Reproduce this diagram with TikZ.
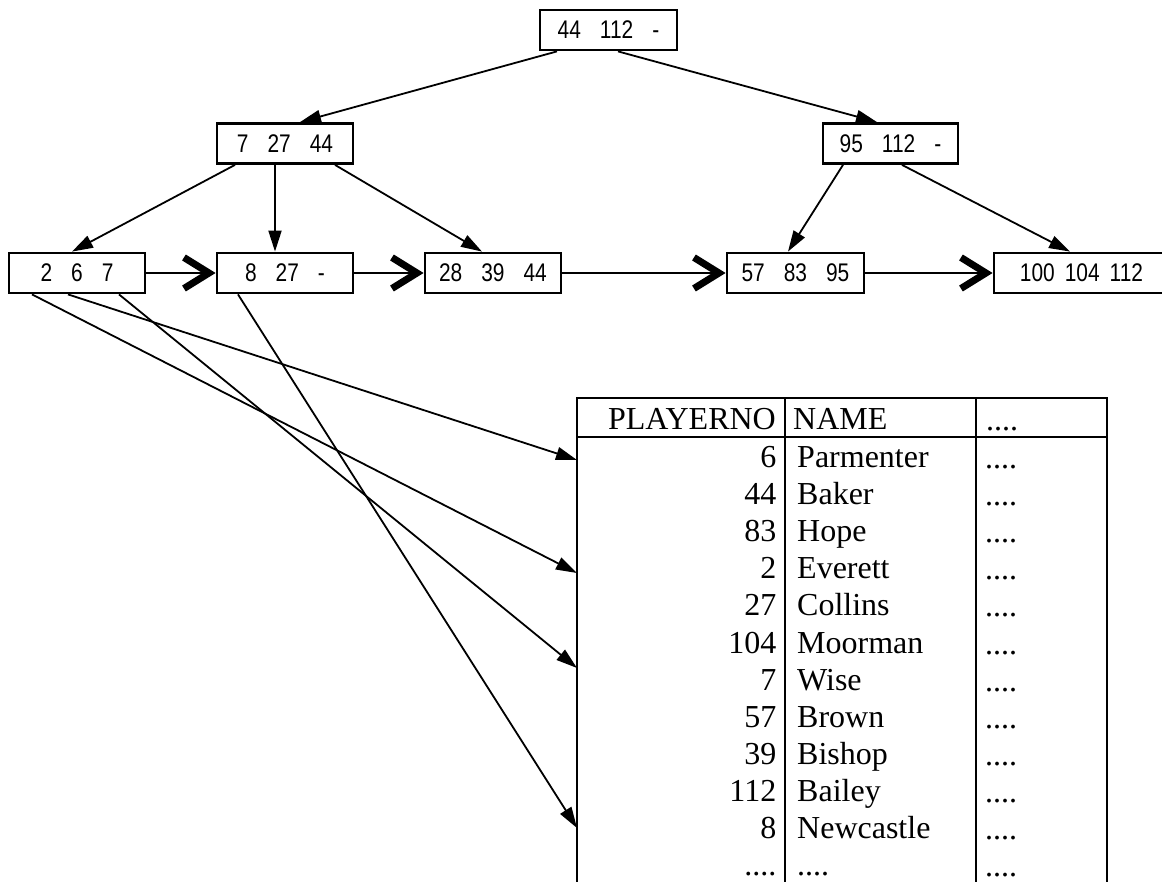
\documentclass[tikz,border=0pt]{standalone}
\usepackage{fontspec}
\setmainfont{Liberation Serif}
\newfontfamily\narrowsans[FakeStretch=0.82]{Liberation Sans}
\usetikzlibrary{arrows.meta,calc}
\newcommand{\gp}{\hspace{19pt}}
\newcommand{\fourdots}{....}
\begin{document}
\begin{tikzpicture}[x=1pt,y=-1pt,
  key/.style={draw,line width=2.8pt,minimum height=40pt,inner sep=0pt,
    font=\narrowsans\fontsize{25.5}{30}\selectfont},
  ptr/.style={line width=1.8pt,-{Triangle[length=21pt,width=13pt]}},
  nxt/.style={line width=1.8pt,-{Straight Barb[length=25pt,width=31pt,line width=7pt]}},
  cell/.style={inner sep=0pt,font=\fontsize{32}{37}\selectfont},
  rule/.style={line width=1.8pt}]
\useasboundingbox (0,0) rectangle (1162,882);

% tree nodes
\node[key,minimum width=137pt] (root) at (608.5,30) {44\gp112\gp-};
\node[key,minimum width=136pt] (l1a) at (285,143.5) {7\gp27\gp44};
\node[key,minimum width=135pt] (l1b) at (890.5,143.5) {95\gp112\gp-};
\node[key,minimum width=136pt] (lf1) at (77,273) {2\gp6\gp7};
\node[key,minimum width=136pt] (lf2) at (285,273) {8\gp27\gp-};
\node[key,minimum width=136pt] (lf3) at (493,273) {28\gp39\gp44};
\node[key,minimum width=137pt] (lf4) at (795.5,273) {57\gp83\gp95};
\node[key,minimum width=175pt] (lf5) at (1081.5,273) {100\hspace{10pt}104\hspace{10pt}112};

% tree pointers
\draw[ptr] ([xshift=-51.5pt]root.south) -- ([xshift=15pt]l1a.north);
\draw[ptr] ([xshift=9.5pt]root.south) -- ([xshift=-13.5pt]l1b.north);
\draw[ptr] ([xshift=-50pt]l1a.south) -- ([xshift=-5pt]lf1.north);
\draw[ptr] ([xshift=-10pt]l1a.south) -- ([xshift=-10pt]lf2.north);
\draw[ptr] ([xshift=50pt]l1a.south) -- ([xshift=-11pt]lf3.north);
\draw[ptr] ([xshift=-47.5pt]l1b.south) -- ([xshift=-7.5pt]lf4.north);
\draw[ptr] ([xshift=11.5pt]l1b.south) -- ([xshift=-11.5pt]lf5.north);

% leaf chain
\draw[nxt] (lf1.east) -- (lf2.west);
\draw[nxt] (lf2.east) -- (lf3.west);
\draw[nxt] (lf3.east) -- (lf4.west);
\draw[nxt] (lf4.east) -- (lf5.west);

% table
\draw[rule] (577,882) -- (577,398) -- (1107,398) -- (1107,882);
\draw[rule] (577,437) -- (1107,437);
\draw[rule] (785,398) -- (785,882);
\draw[rule] (976,398) -- (976,882);

\node[cell,anchor=base east] (hno) at (776,429) {PLAYERNO};
\node[cell,anchor=base west] (hname) at (793,429) {NAME};
\node[cell,anchor=base west] (hmore) at (986,430) {\fourdots};

\foreach \n/\name [count=\i from 0] in {6/Parmenter,44/Baker,83/Hope,2/Everett,27/Collins,104/Moorman,7/Wise,57/Brown,39/Bishop,112/Bailey,8/Newcastle,\fourdots/\fourdots}{
  \node[cell,anchor=base east] (no\i) at (776.5,467.5+37.1*\i) {\n};
  \node[cell,anchor=base west] (nm\i) at (797,467.5+37.1*\i) {\name};
  \node[cell,anchor=base west] (mo\i) at (985,468.5+37.1*\i) {\fourdots};
}

% targets on the table edge
\coordinate (t6) at (577,460);
\coordinate (t2) at (577,573);
\coordinate (t7) at (577,668);
\coordinate (t8) at (577,828);

\draw[ptr] ([xshift=-45pt]lf1.south) -- (t2);
\draw[ptr] ([xshift=-9pt]lf1.south) -- (t6);
\draw[ptr] ([xshift=42pt]lf1.south) -- (t7);
\draw[ptr] ([xshift=-47pt]lf2.south) -- (t8);
\end{tikzpicture}
\end{document}
